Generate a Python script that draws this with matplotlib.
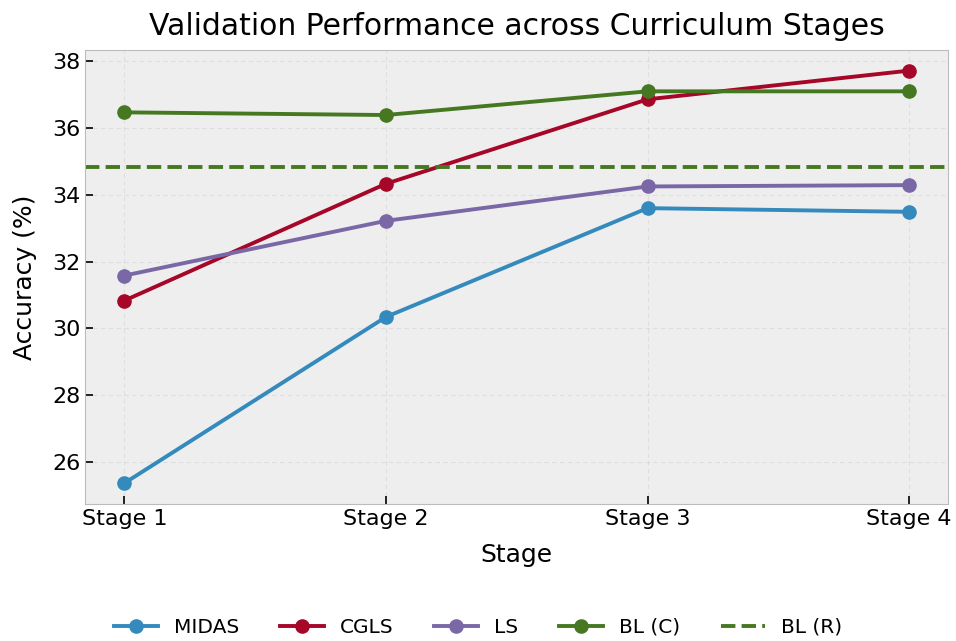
import matplotlib
matplotlib.use("Agg")
import matplotlib.pyplot as plt

plt.style.use("bmh")

stages = ["Stage 1", "Stage 2", "Stage 3", "Stage 4"]
midas = [25.36, 30.34, 33.60, 33.49]
cgls = [30.83, 34.33, 36.86, 37.72]
ls = [31.58, 33.22, 34.25, 34.29]
bl_c = [36.47, 36.39, 37.10, 37.10]
bl_r = 34.82

colors = ["#348ABD", "#A60628", "#7A68A6", "#467821"]

fig = plt.figure(figsize=(9.56, 6.41), dpi=100)
ax = fig.add_axes([0.089, 0.214, 0.903, 0.708])
x = list(range(len(stages)))
for vals, lab, c in zip([midas, cgls, ls, bl_c], ["MIDAS", "CGLS", "LS", "BL (C)"], colors):
    ax.plot(x, vals, marker="o", color=c, lw=2.8, markersize=9.5, label=lab)
ax.axhline(bl_r, color=colors[3], lw=2.8, ls="--", label="BL (R)")

ax.set_xticks(x)
ax.set_xticklabels(stages)
ax.tick_params(labelsize=16, direction="in", length=6, width=1.2, color="black")
ax.set_xlabel("Stage", fontsize=18, labelpad=10)
ax.set_ylabel("Accuracy (%)", fontsize=18, labelpad=11)
ax.set_title("Validation Performance across Curriculum Stages", fontsize=21.5, pad=11)
ax.grid(True, linestyle=(0, (4, 3)), alpha=0.5, color="#cfcfcf", lw=0.8)
ax.set_facecolor("#eeeeee")
fig.legend(loc="lower center", ncol=5, frameon=False, fontsize=14.5,
           bbox_to_anchor=(0.5, -0.022), columnspacing=2.0, handletextpad=0.8,
           handlelength=2.2)
fig.savefig("out.png", dpi=100, facecolor="white")
